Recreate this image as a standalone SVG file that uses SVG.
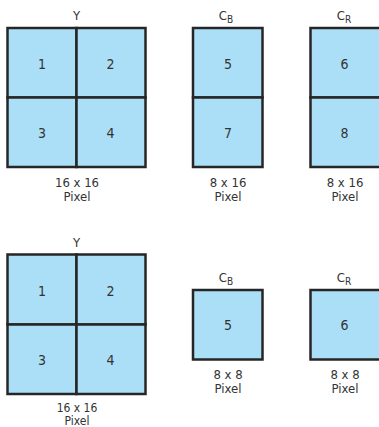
<svg xmlns="http://www.w3.org/2000/svg" width="379" height="427" viewBox="0 0 379 427">
<style>
.cell{fill:#abdff8;stroke:#262626;stroke-width:2.5}
.t{font-family:"Liberation Sans Narrow","DejaVu Sans Condensed","Liberation Sans",sans-serif;font-stretch:condensed;font-size:13px;fill:#333;text-anchor:middle}
.n{font-size:14px}
.s{font-size:10px}
.b{font-size:12px}
</style>
<rect width="379" height="427" fill="#fff"/>
<g id="top-y">
<rect class="cell" x="7.5" y="28" width="69" height="69.5"/>
<rect class="cell" x="76.5" y="28" width="69" height="69.5"/>
<rect class="cell" x="7.5" y="97.5" width="69" height="69.5"/>
<rect class="cell" x="76.5" y="97.5" width="69" height="69.5"/>
<text class="t" x="76.5" y="20">Y</text>
<text class="t n" x="42" y="69">1</text>
<text class="t n" x="110.5" y="69">2</text>
<text class="t n" x="42" y="138">3</text>
<text class="t n" x="110.5" y="138">4</text>
<text class="t" x="77" y="187">16 x 16</text>
<text class="t" x="77" y="201">Pixel</text>
</g>
<g id="top-cb">
<rect class="cell" x="193" y="28" width="69.5" height="69.5"/>
<rect class="cell" x="193" y="97.5" width="69.5" height="69.5"/>
<text class="t" x="226" y="20">C<tspan class="s" dy="3">B</tspan></text>
<text class="t n" x="228" y="69">5</text>
<text class="t n" x="228" y="138">7</text>
<text class="t" x="228" y="187">8 x 16</text>
<text class="t" x="228" y="201">Pixel</text>
</g>
<g id="top-cr">
<rect class="cell" x="310.5" y="28" width="70" height="69.5"/>
<rect class="cell" x="310.5" y="97.5" width="70" height="69.5"/>
<text class="t" x="344" y="20">C<tspan class="s" dy="3">R</tspan></text>
<text class="t n" x="344.5" y="69">6</text>
<text class="t n" x="344.5" y="138">8</text>
<text class="t" x="345" y="187">8 x 16</text>
<text class="t" x="345" y="201">Pixel</text>
</g>
<g id="bottom-y">
<rect class="cell" x="7.5" y="254.5" width="69" height="70"/>
<rect class="cell" x="76.5" y="254.5" width="69" height="70"/>
<rect class="cell" x="7.5" y="324.5" width="69" height="69.5"/>
<rect class="cell" x="76.5" y="324.5" width="69" height="69.5"/>
<text class="t" x="76.5" y="247">Y</text>
<text class="t n" x="42" y="296">1</text>
<text class="t n" x="110.5" y="296">2</text>
<text class="t n" x="42" y="365">3</text>
<text class="t n" x="110.5" y="365">4</text>
<text class="t b" x="77" y="412">16 x 16</text>
<text class="t b" x="77" y="425">Pixel</text>
</g>
<g id="bottom-cb">
<rect class="cell" x="193" y="290" width="69.5" height="69.5"/>
<text class="t" x="226" y="282">C<tspan class="s" dy="3">B</tspan></text>
<text class="t n" x="228" y="330">5</text>
<text class="t" x="228" y="379">8 x 8</text>
<text class="t" x="228" y="393">Pixel</text>
</g>
<g id="bottom-cr">
<rect class="cell" x="310.5" y="290" width="70" height="69.5"/>
<text class="t" x="344" y="282">C<tspan class="s" dy="3">R</tspan></text>
<text class="t n" x="344.5" y="330">6</text>
<text class="t" x="345" y="379">8 x 8</text>
<text class="t" x="345" y="393">Pixel</text>
</g>
<g id="connectors"></g>
</svg>
